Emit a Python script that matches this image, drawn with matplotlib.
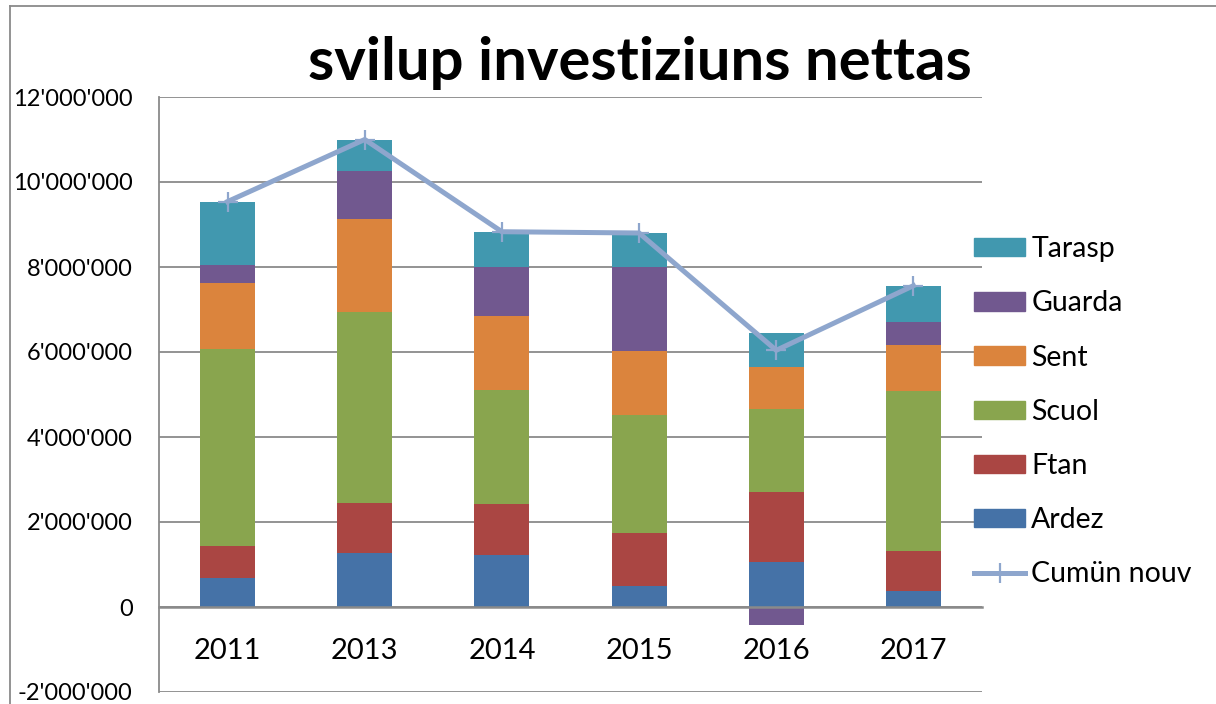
import matplotlib
matplotlib.use("Agg")
import matplotlib.pyplot as plt
import numpy as np
from matplotlib.patches import Patch
from matplotlib.lines import Line2D
from matplotlib.ticker import FuncFormatter

years = ["2011", "2013", "2014", "2015", "2016", "2017"]

# values in CHF
ardez  = [680000, 1270000, 1230000, 500000, 1070000, 380000]
ftan   = [750000, 1180000, 1200000, 1230000, 1630000, 940000]
scuol  = [4630000, 4490000, 2670000, 2780000, 1970000, 3770000]
sent   = [1570000, 2190000, 1740000, 1510000, 980000, 1080000]
guarda = [420000, 1120000, 1150000, 1970000, -420000, 530000]
tarasp = [1490000, 750000, 840000, 810000, 790000, 860000]
cumun_nouv = [9540000, 11000000, 8830000, 8800000, 6040000, 7560000]

series = [
    ("Ardez",  ardez,  "#4572A7"),
    ("Ftan",   ftan,   "#AA4643"),
    ("Scuol",  scuol,  "#89A54E"),
    ("Sent",   sent,   "#DB843D"),
    ("Guarda", guarda, "#71588F"),
    ("Tarasp", tarasp, "#4198AF"),
]
LINE = "#8EA6CD"
GRID = "#8a8a8a"
FONT = "Lato"

fig = plt.figure(figsize=(12.16, 7.04), dpi=100)
ax = fig.add_axes([159 / 1216, 1 - 692 / 704, 823 / 1216, 595 / 704])

x = np.arange(len(years))
pos_bottom = np.zeros(len(years))
neg_bottom = np.zeros(len(years))
for name, vals, col in series:
    v = np.array(vals, dtype=float)
    bottom = np.where(v >= 0, pos_bottom, neg_bottom)
    ax.bar(x, v, width=0.4, bottom=bottom, color=col, linewidth=0, zorder=2)
    pos_bottom += np.where(v >= 0, v, 0)
    neg_bottom += np.where(v < 0, v, 0)

ax.plot(x, cumun_nouv, color=LINE, lw=3.6, marker="+", ms=14, mew=1.6,
        zorder=3, solid_joinstyle="miter")

ax.set_xlim(-0.5, len(years) - 0.5)
ax.set_ylim(-2000000, 12000000)
ax.set_yticks(np.arange(-2000000, 12000001, 2000000))
ax.yaxis.set_major_formatter(FuncFormatter(lambda v, p: f"{int(v):,}".replace(",", "'")))
ax.set_xticks(x)
ax.set_xticklabels(years)

ax.yaxis.grid(True, color=GRID, lw=1.3)
ax.set_axisbelow(True)
for s in ["top", "right"]:
    ax.spines[s].set_visible(False)
ax.spines["left"].set_color(GRID)
ax.spines["left"].set_linewidth(1.3)
ax.spines["bottom"].set_position(("data", 0))
ax.spines["bottom"].set_color(GRID)
ax.spines["bottom"].set_linewidth(1.8)
ax.spines["bottom"].set_zorder(4)

ax.tick_params(axis="y", length=0, pad=19, labelsize=17)
ax.tick_params(axis="x", length=0, pad=22, labelsize=21)
for lab in ax.get_xticklabels() + ax.get_yticklabels():
    lab.set_fontfamily(FONT)

fig.text(0.526, 1 - 63 / 704, "svilup investiziuns nettas", ha="center", va="center",
         fontsize=43, fontweight="bold", family=FONT)

# outer chart frame
fig.add_artist(Line2D([10 / 1216, 1], [1 - 6 / 704, 1 - 6 / 704], color=GRID, lw=1.3,
                      transform=fig.transFigure))
fig.add_artist(Line2D([10 / 1216, 10 / 1216], [0, 1 - 6 / 704], color=GRID, lw=1.3,
                      transform=fig.transFigure))

handles = [Patch(color=col, label=name) for name, vals, col in reversed(series)]
handles.append(Line2D([0], [0], color=LINE, lw=3.6, marker="+", ms=14, mew=1.6,
                      label="Cumün nouv"))
fig.legend(handles=handles, loc="upper left", bbox_to_anchor=(960 / 1216, 1 - 222 / 704),
           frameon=False, borderpad=0, prop={"family": FONT, "size": 20.5},
           handlelength=1.8, handleheight=0.62, handletextpad=0.2, labelspacing=0.99)

fig.savefig("out.png", dpi=100)
